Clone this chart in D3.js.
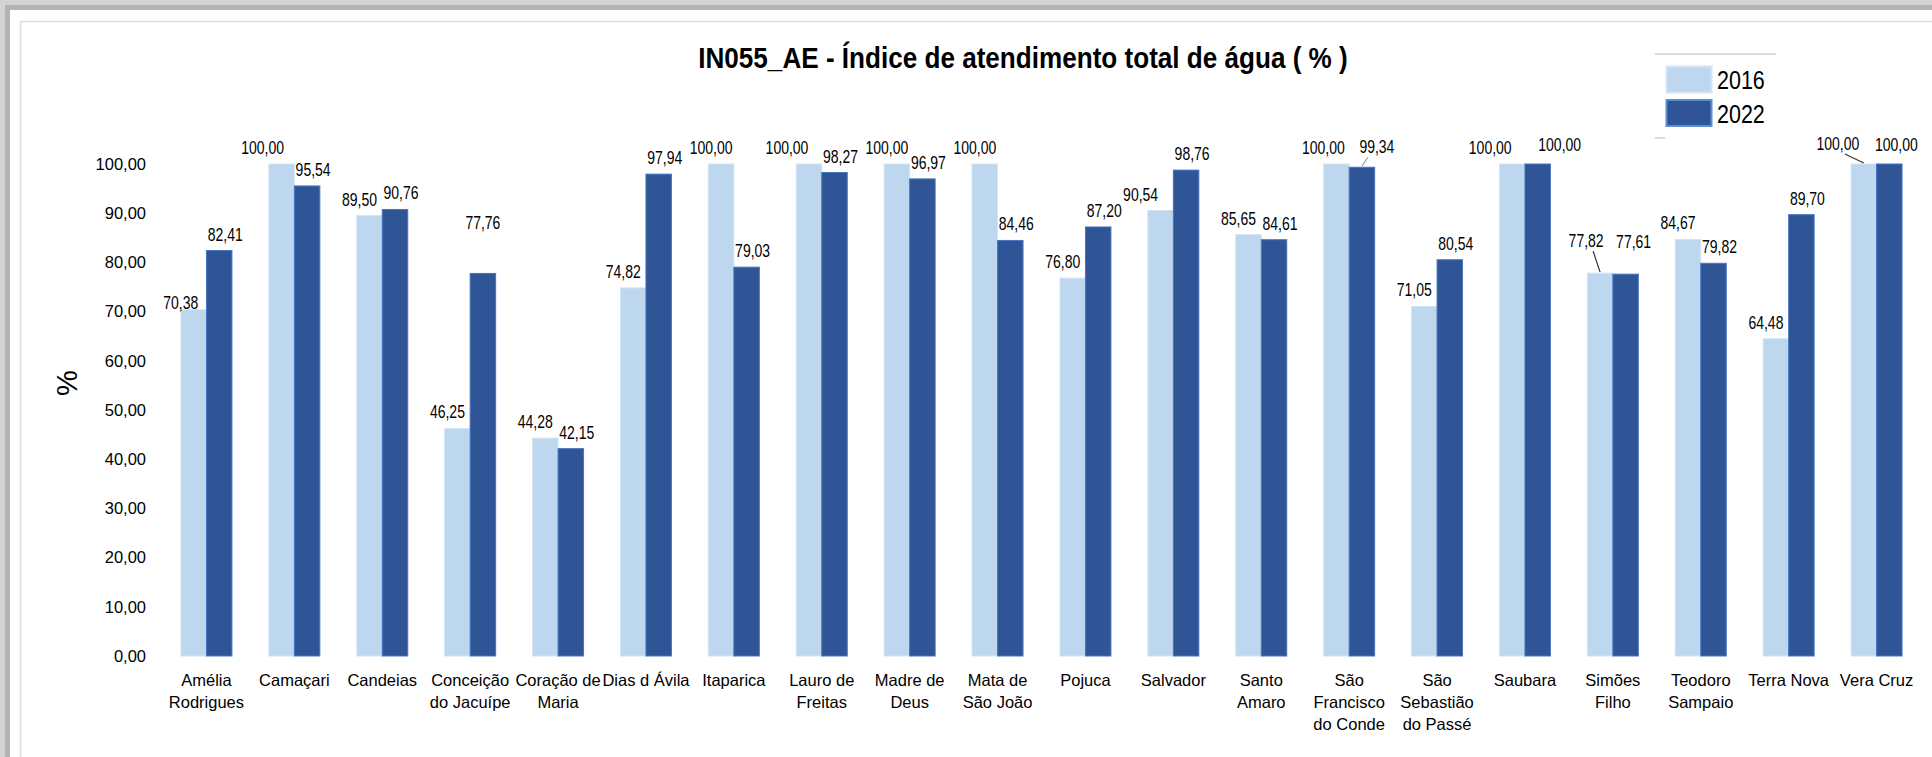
<!DOCTYPE html>
<html>
<head>
<meta charset="utf-8">
<script src="https://cdn.jsdelivr.net/npm/d3@7"></script>
<style>
  html, body { margin: 0; padding: 0; background: #fff; }
  svg { display: block; }
</style>
</head>
<body>
<div id="chart"></div>
<script>
// IN055_AE - water service index, 2016 vs 2022

const categories = [
  "Amélia Rodrigues", "Camaçari", "Candeias", "Conceição do Jacuípe", "Coração de Maria",
  "Dias d Ávila", "Itaparica", "Lauro de Freitas", "Madre de Deus", "Mata de São João",
  "Pojuca", "Salvador", "Santo Amaro", "São Francisco do Conde", "São Sebastião do Passé",
  "Saubara", "Simões Filho", "Teodoro Sampaio", "Terra Nova", "Vera Cruz"
];
const values2016 = [70.38, 100.00, 89.50, 46.25, 44.28, 74.82, 100.00, 100.00, 100.00, 100.00,
                    76.80, 90.54, 85.65, 100.00, 71.05, 100.00, 77.82, 84.67, 64.48, 100.00];
const values2022 = [82.41, 95.54, 90.76, 77.76, 42.15, 97.94, 79.03, 98.27, 96.97, 84.46,
                    87.20, 98.76, 84.61, 99.34, 80.54, 100.00, 77.61, 79.82, 89.70, 100.00];
const years = ["2016", "2022"];
const yTicks = [0, 10, 20, 30, 40, 50, 60, 70, 80, 90, 100];

const title = "IN055_AE - Índice de atendimento total de água ( % )";
const colors = { "2016": "#BDD7EE", "2022": "#2F5597" };
const strokes = { "2016": "#D3E4F4", "2022": "#4675C2" };

// label nudges (dx, dy) and which labels get a leader line
const labelShift = { "2016": -10, "2022": 6 };
const labelNudge = {
  "Amélia Rodrigues|2016": [-3, 9],
  "Camaçari|2016": [-9, 0],
  "Conceição do Jacuípe|2022": [-6, -34],
  "Lauro de Freitas|2016": [-12, 0],
  "Salvador|2016": [-10, 0],
  "São Francisco do Conde|2016": [-3, 0],
  "São Francisco do Conde|2022": [9, -4, true],
  "Saubara|2016": [-12, 0],
  "Saubara|2022": [16, -3],
  "Simões Filho|2016": [-4, -16, true],
  "Simões Filho|2022": [2, -16],
  "Vera Cruz|2016": [-16, -4, true],
  "Vera Cruz|2022": [1, -3]
};

const W = 1932, H = 757;
// no narrow face installed: squeeze the regular one horizontally
const FONT = "'Liberation Sans', Arial, sans-serif";

function squeezed(sel, x, y, s) {
  return sel.attr("transform", `translate(${x},${y}) scale(${s},1)`)
    .style("font-family", FONT);
}

const svg = d3.select("#chart").append("svg")
  .attr("width", W)
  .attr("height", H);

svg.append("rect").attr("width", W).attr("height", H).attr("fill", "#fff");

// screenshot frame: grey bands top / left and thin inner border
svg.append("rect").attr("x", 0).attr("y", 0).attr("width", W).attr("height", 5).attr("fill", "#d3d3d3");
svg.append("rect").attr("x", 0).attr("y", 5).attr("width", W).attr("height", 5).attr("fill", "#b3b3b3");
svg.append("rect").attr("x", 0).attr("y", 0).attr("width", 5).attr("height", H).attr("fill", "#d3d3d3");
svg.append("rect").attr("x", 5).attr("y", 5).attr("width", 5).attr("height", H).attr("fill", "#b3b3b3");
svg.append("path")
  .attr("d", `M20.5,${H}V21.5H${W}`)
  .attr("fill", "none")
  .attr("stroke", "#dedede")
  .attr("stroke-width", 1.5);

// scales
const x0 = d3.scaleBand()
  .domain(categories)
  .range([162.5, 1920.5])
  .paddingInner(0.42)
  .paddingOuter(0.21);

const x1 = d3.scaleBand()
  .domain(years)
  .range([0, x0.bandwidth()]);

const y = d3.scaleLinear()
  .domain([0, 100])
  .range([656, 164]);

const fmt = v => d3.format(".2f")(v).replace(".", ",");

// title
svg.append("text")
  .call(squeezed, 1023, 68, 0.9)
  .attr("text-anchor", "middle")
  .style("font-weight", "bold")
  .style("font-size", "29px")
  .attr("fill", "#000")
  .text(title);

// y axis (labels only, no line)
const yAxis = d3.axisLeft(y)
  .tickValues(yTicks)
  .tickFormat(fmt)
  .tickSize(0)
  .tickPadding(0);

const yg = svg.append("g")
  .attr("transform", "translate(146,0)")
  .call(yAxis);
yg.select(".domain").remove();
yg.selectAll("text")
  .style("font-family", FONT)
  .style("font-size", "16.5px")
  .attr("fill", "#000");

svg.append("text")
  .attr("transform", "translate(77,383) rotate(-90)")
  .attr("text-anchor", "middle")
  .style("font-family", FONT)
  .style("font-size", "29px")
  .attr("fill", "#000")
  .text("%");

// bars
const rows = categories.map((c, i) => ({
  cat: c,
  vals: [{ year: "2016", v: values2016[i] }, { year: "2022", v: values2022[i] }]
}));

const groups = svg.append("g").selectAll("g")
  .data(rows)
  .join("g")
  .attr("transform", d => `translate(${x0(d.cat)},0)`);

groups.selectAll("rect")
  .data(d => d.vals.map(v => ({ ...v, cat: d.cat })))
  .join("rect")
  .attr("x", d => x1(d.year))
  .attr("y", d => y(d.v))
  .attr("width", x1.bandwidth())
  .attr("height", d => y(0) - y(d.v))
  .attr("fill", d => colors[d.year])
  .attr("stroke", d => strokes[d.year])
  .attr("stroke-width", 1);

// data labels
groups.each(function(d) {
  const g = d3.select(this);
  d.vals.forEach(v => {
    const nudge = labelNudge[d.cat + "|" + v.year] || [0, 0];
    const cx = x1(v.year) + x1.bandwidth() / 2;
    const lx = cx + labelShift[v.year] + nudge[0];
    const ly = y(v.v) - 10 + nudge[1];
    if (nudge[2]) {
      const sx = v.year === "2016" ? lx + 7 : lx - 9;
      g.append("line")
        .attr("x1", sx).attr("y1", ly + 4)
        .attr("x2", cx).attr("y2", y(v.v) - 1)
        .attr("stroke", v.year === "2016" ? "#333" : "#999")
        .attr("stroke-width", 1.2);
    }
    g.append("text")
      .call(squeezed, lx, ly, 0.8)
      .attr("text-anchor", "middle")
      .style("font-size", "17.5px")
      .attr("fill", "#000")
      .text(fmt(v.v));
  });
});

// category labels (wrapped like the spreadsheet does)
const xAxis = d3.axisBottom(x0).tickSize(0).tickPadding(0);
const xg = svg.append("g")
  .attr("transform", "translate(0,686)")
  .call(xAxis);
xg.select(".domain").remove();
xg.selectAll("text")
  .style("font-family", FONT)
  .style("font-size", "16.5px")
  .attr("fill", "#000")
  .attr("dy", 0)
  .each(function(t) {
    const el = d3.select(this);
    const words = t.split(" ");
    el.text(null);
    let line = [];
    let lines = [];
    const probe = el.append("tspan");
    words.forEach(w => {
      line.push(w);
      probe.text(line.join(" "));
      if (probe.node().getComputedTextLength() > 90 && line.length > 1) {
        line.pop();
        lines.push(line.join(" "));
        line = [w];
      }
    });
    lines.push(line.join(" "));
    probe.remove();
    lines.forEach((l, i) => {
      el.append("tspan")
        .attr("x", 0)
        .attr("y", i * 22)
        .text(l);
    });
  });

// legend
const legend = svg.append("g");
legend.append("line")
  .attr("x1", 1655).attr("x2", 1776)
  .attr("y1", 54).attr("y2", 54)
  .attr("stroke", "#dcdcdc").attr("stroke-width", 2);
legend.append("line")
  .attr("x1", 1655).attr("x2", 1665)
  .attr("y1", 138).attr("y2", 138)
  .attr("stroke", "#dcdcdc").attr("stroke-width", 2);
years.forEach((yr, i) => {
  legend.append("rect")
    .attr("x", 1666.5)
    .attr("y", 66.5 + i * 33.5)
    .attr("width", 45)
    .attr("height", 26)
    .attr("fill", colors[yr])
    .attr("stroke", i ? "#5B8ED6" : "#D3E4F4")
    .attr("stroke-width", 2);
  legend.append("text")
    .call(squeezed, 1717, 89 + i * 33.5, 0.86)
    .style("font-size", "25px")
    .attr("fill", "#000")
    .text(yr);
});
</script>
</body>
</html>
